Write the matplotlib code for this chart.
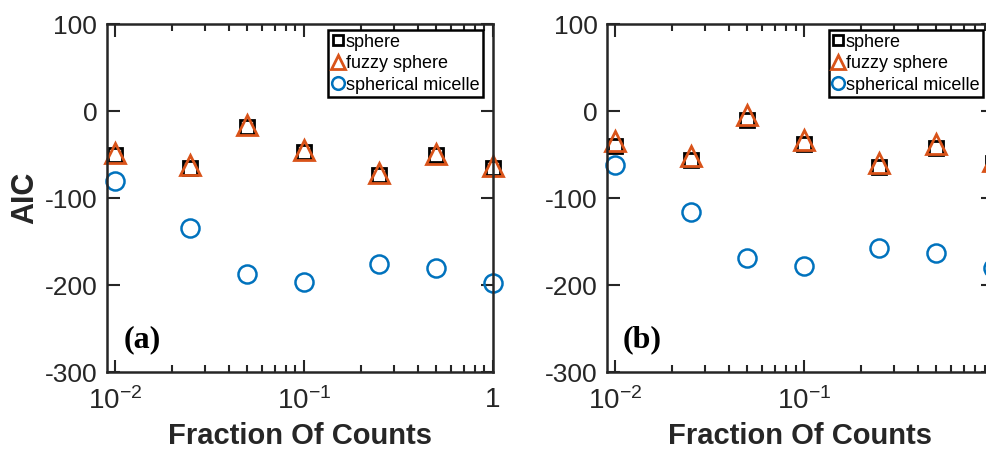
import matplotlib
matplotlib.use("Agg")
import matplotlib.pyplot as plt
from matplotlib.ticker import FixedLocator, NullFormatter

plt.rcParams['font.family'] = ['Liberation Sans', 'DejaVu Sans']
plt.rcParams['axes.unicode_minus'] = False
plt.rcParams['mathtext.fontset'] = 'custom'
plt.rcParams['mathtext.rm'] = 'Liberation Sans'

# fraction of counts used in each fit
fractions = [0.01, 0.025, 0.05, 0.1, 0.25, 0.5, 1.0]

# panel (a)
aic_sphere_a = [-50, -65, -18, -47, -74, -51, -65]
aic_fuzzy_a = [-48, -62, -16, -45, -71, -49, -63]
aic_micelle_a = [-80, -134, -187, -196, -176, -181, -198]

# panel (b)
aic_sphere_b = [-40, -56, -10, -38, -64, -42, -60]
aic_fuzzy_b = [-35, -52, -5, -33, -60, -38, -57]
aic_micelle_b = [-62, -116, -169, -178, -158, -163, -180]

model_names = ["sphere", "fuzzy sphere", "spherical micelle"]
panel_tags = ["(a)", "(b)"]
x_ticks = [0.01, 0.1, 1.0]
x_ticklabels = [r"$\mathdefault{10^{-2}}$", r"$\mathdefault{10^{-1}}$", "1"]
y_ticks = [100, 0, -100, -200, -300]

dark = "#262626"
c_orange = "#D95319"
c_blue = "#0072BD"

fig = plt.figure(figsize=(9.87, 4.5), dpi=100)
ax_a = fig.add_axes([0.1084, 0.1733, 0.391, 0.7733])
ax_b = fig.add_axes([0.6153, 0.1733, 0.391, 0.7733])

panels = [
    (ax_a, aic_sphere_a, aic_fuzzy_a, aic_micelle_a, panel_tags[0]),
    (ax_b, aic_sphere_b, aic_fuzzy_b, aic_micelle_b, panel_tags[1]),
]

minor = [m * 10.0 ** e for e in (-3, -2, -1) for m in range(2, 10)]

for ax, sph, fuz, mic, tag in panels:
    ax.plot(fractions, sph, ls="none", marker="s", ms=10, mfc="none",
            mec="black", mew=2.0, clip_on=False, label=model_names[0])
    ax.plot(fractions, fuz, ls="none", marker="^", ms=14, mfc="none",
            mec=c_orange, mew=2.0, clip_on=False, label=model_names[1])
    ax.plot(fractions, mic, ls="none", marker="o", ms=13, mfc="none",
            mec=c_blue, mew=1.8, clip_on=False, label=model_names[2])

    ax.set_xscale("log")
    ax.set_xlim(0.00907, 1.0)
    ax.set_ylim(-300, 100)
    ax.set_xticks(x_ticks)
    ax.set_xticklabels(x_ticklabels)
    ax.xaxis.set_minor_locator(FixedLocator(minor))
    ax.xaxis.set_minor_formatter(NullFormatter())
    ax.set_yticks(y_ticks)
    ax.set_yticklabels([str(v) for v in y_ticks])

    ax.tick_params(which="both", direction="in", top=True, right=True,
                   color=dark, labelcolor=dark, labelsize=19, width=1.5)
    ax.tick_params(which="major", length=9, pad=7)
    ax.tick_params(axis="x", which="major", pad=11, labelsize=20)
    ax.tick_params(which="minor", length=5)
    for s in ax.spines.values():
        s.set_color(dark)
        s.set_linewidth(1.8)

    ax.set_xlabel("Fraction Of Counts", fontsize=21, fontweight="bold",
                  color=dark, labelpad=5)
    ax.text(0.0139, -263, tag, fontsize=23, fontweight="bold",
            family="Liberation Serif", ha="center", va="center")

    leg = ax.legend(loc="upper right", bbox_to_anchor=(0.974, 0.983),
                    borderaxespad=0, fontsize=13, markerscale=0.7,
                    handlelength=0.6, handletextpad=0.15, borderpad=0.2,
                    labelspacing=0.25, fancybox=False, framealpha=1,
                    edgecolor="black")
    leg.get_frame().set_linewidth(1.8)

ax_a.set_ylabel("AIC", fontsize=22, fontweight="bold", color=dark, labelpad=3)

fig.savefig("out.png", dpi=100)
